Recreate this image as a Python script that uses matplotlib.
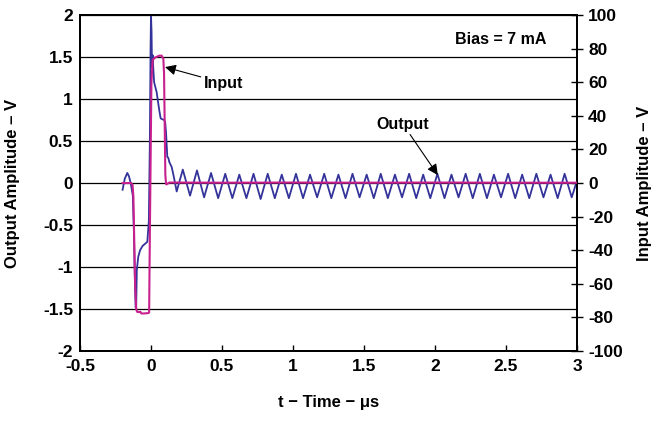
import numpy as np
import matplotlib
matplotlib.use('Agg')
import matplotlib.pyplot as plt
from matplotlib.ticker import FuncFormatter, MultipleLocator

plt.rcParams['font.family'] = ['Liberation Sans', 'DejaVu Sans']
plt.rcParams['font.weight'] = 'bold'
plt.rcParams['axes.unicode_minus'] = False

# ---------------------------------------------------------------------------
# datos
# ---------------------------------------------------------------------------
# salida (eje izquierdo, V): transitorio inicial
out_t = [-0.200, -0.185, -0.167, -0.155, -0.143, -0.128, -0.120, -0.113, -0.108,
         -0.104, -0.100, -0.090, -0.077, -0.060, -0.040, -0.026, -0.015, -0.008,
         -0.003, 0.000, 0.004, 0.007, 0.012, 0.016, 0.022, 0.040, 0.058, 0.068,
         0.078, 0.094, 0.100, 0.106, 0.115, 0.122, 0.129, 0.146, 0.160, 0.181]
out_v = [-0.08, 0.05, 0.12, 0.08, 0.00, -0.15, -0.60, -1.20, -1.48,
         -1.45, -1.04, -0.88, -0.80, -0.75, -0.72, -0.70, -0.45, 0.50,
         1.60, 2.00, 1.80, 1.38, 1.52, 1.37, 1.20, 1.08, 0.87, 0.77,
         0.76, 0.75, 0.72, 0.60, 0.31, 0.30, 0.25, 0.19, 0.08, -0.10]

# salida: oscilacion residual (picos y valles)
osc_t = [0.224, 0.275, 0.324, 0.374, 0.423, 0.473, 0.523, 0.573, 0.622, 0.672,
         0.722, 0.772, 0.822, 0.872, 0.921, 0.971, 1.021, 1.071, 1.120, 1.170,
         1.220, 1.270, 1.320, 1.370, 1.419, 1.469, 1.519, 1.569, 1.618, 1.668,
         1.718, 1.768, 1.818, 1.868, 1.917, 1.967, 2.017, 2.067, 2.116, 2.166,
         2.216, 2.266, 2.316, 2.366, 2.415, 2.465, 2.515, 2.565, 2.614, 2.664,
         2.714, 2.764, 2.814, 2.864, 2.913, 2.963, 2.995]
osc_v = [0.16, -0.15, 0.15, -0.17, 0.12, -0.18, 0.11, -0.18, 0.10, -0.18,
         0.11, -0.19, 0.11, -0.18, 0.10, -0.18, 0.11, -0.18, 0.10, -0.17,
         0.11, -0.18, 0.10, -0.18, 0.11, -0.17, 0.10, -0.18, 0.11, -0.18,
         0.10, -0.17, 0.11, -0.18, 0.10, -0.18, 0.11, -0.18, 0.10, -0.17,
         0.11, -0.18, 0.11, -0.18, 0.10, -0.17, 0.11, -0.18, 0.10, -0.18,
         0.11, -0.17, 0.10, -0.18, 0.11, -0.17, 0.00]

# entrada (eje derecho, V)
in_t = [-0.200, -0.140, -0.130, -0.124, -0.112, -0.104, -0.098, -0.090, -0.075,
        -0.068, -0.050, -0.020, -0.013, -0.008, 0.003, 0.012, 0.028, 0.058,
        0.075, 0.087, 0.092, 0.101, 0.106, 0.110, 0.130, 0.500, 1.000, 1.500,
        2.000, 2.500, 3.000]
in_v = [0.0, 0.0, -1.0, -8.0, -60.0, -75.0, -76.6, -76.8, -76.6,
        -77.6, -77.6, -77.4, -77.0, -30.0, 60.0, 73.2, 74.6, 75.8,
        75.8, 74.0, 65.0, 5.0, -0.6, -0.8, 0.3, 0.2, 0.3, 0.2,
        0.3, 0.2, 0.2]

# ---------------------------------------------------------------------------
# figura
# ---------------------------------------------------------------------------
fig = plt.figure(figsize=(6.6, 4.22), dpi=100)
ax = fig.add_axes([0.1212, 0.168, 0.7530, 0.7965])
ax2 = ax.twinx()

blue = '#33339A'
magenta = '#C8208E'

ax.plot(out_t + osc_t, out_v + osc_v, color=blue, linewidth=1.3, zorder=3,
        solid_joinstyle='round')
ax2.plot(in_t, in_v, color=magenta, linewidth=1.5, zorder=3)

ax.set_xlim(-0.5, 3.0)
ax.set_ylim(-2, 2)
ax2.set_ylim(-100, 100)

ax.xaxis.set_major_locator(MultipleLocator(0.5))
ax.yaxis.set_major_locator(MultipleLocator(0.5))
ax2.yaxis.set_major_locator(MultipleLocator(20))
fmt = FuncFormatter(lambda v, p: '%g' % v)
ax.xaxis.set_major_formatter(fmt)
ax.yaxis.set_major_formatter(fmt)
ax2.yaxis.set_major_formatter(fmt)

ax.grid(True, axis='y', color='black', linewidth=0.9)
ax.set_axisbelow(True)

ax.tick_params(axis='x', direction='in', length=4, width=1, pad=6, labelsize=12.5)
ax.tick_params(axis='y', direction='in', length=0, pad=5, labelsize=12.5)
ax2.tick_params(axis='y', direction='inout', length=8, width=1, pad=4, labelsize=12.5)

for a in (ax, ax2):
    for s in a.spines.values():
        s.set_linewidth(1.3)

ax.set_xlabel('t − Time − μs', fontsize=12, fontweight='bold')
ax.set_ylabel('Output Amplitude – V', fontsize=12, fontweight='bold')
ax2.set_ylabel('Input Amplitude – V', fontsize=12, fontweight='bold')
ax.xaxis.set_label_coords(0.5, -0.131)
ax.yaxis.set_label_coords(-0.121, 0.5)
ax2.yaxis.set_label_coords(1.121, 0.5)

# anotaciones
arrow = dict(arrowstyle='-|>', color='black', lw=0.8, mutation_scale=16,
             shrinkA=0, shrinkB=0)
ax.annotate('Input', xy=(0.099, 1.38), xytext=(0.37, 1.19),
            fontsize=11.5, fontweight='bold', ha='left', va='center',
            arrowprops=arrow)
ax.annotate('Output', xy=(2.02, 0.095), xytext=(1.775, 0.70),
            fontsize=11.5, fontweight='bold', ha='center', va='center',
            arrowprops=arrow)
ax.text(2.46, 1.71, 'Bias = 7 mA', fontsize=11.5, fontweight='bold',
        ha='center', va='center')

plt.savefig('out.png', dpi=100)
